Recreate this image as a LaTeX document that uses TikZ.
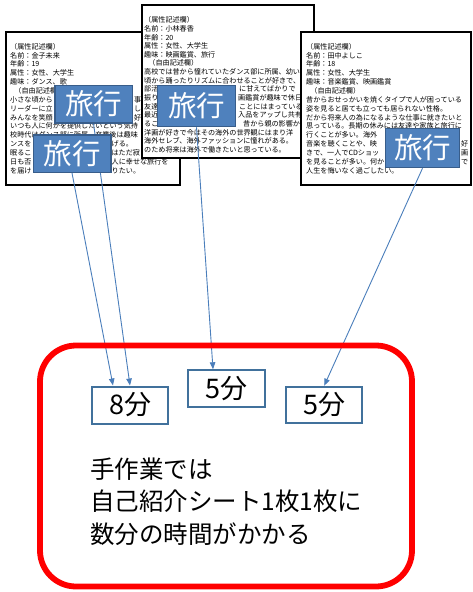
\documentclass[tikz,border=0pt]{standalone}
\usepackage{fontspec}
\setmainfont{Noto Sans CJK JP}
\usetikzlibrary{arrows.meta}
\definecolor{tagblue}{HTML}{4F81BD}
\definecolor{tagedge}{HTML}{385D8A}
\definecolor{linkblue}{HTML}{4A7EBB}
\definecolor{timeedge}{HTML}{41719C}
\definecolor{framered}{HTML}{FF0000}
\pgfdeclarelayer{bglayer}
\pgfdeclarelayer{cardlayer}
\pgfdeclarelayer{linklayer}
\pgfsetlayers{bglayer,cardlayer,linklayer,main}
\begin{document}
\begin{tikzpicture}[x=1pt,y=-1pt,
  card/.style={draw=black, line width=1.2pt, fill=white, inner sep=0pt, outer sep=0pt},
  cardtxt/.style={font=\fontsize{7.1}{8}\selectfont, inner sep=0pt, anchor=base west, text=black},
  tag/.style={fill=tagblue, draw=tagedge, line width=1.5pt, text=white, font=\fontsize{28.5}{30}\selectfont, minimum width=77.5pt, minimum height=37.5pt, inner sep=0pt},
  timebox/.style={fill=white, draw=timeedge, line width=2pt, font=\fontsize{27}{28}\selectfont, minimum width=76pt, minimum height=37pt, inner sep=0pt},
  link/.style={draw=linkblue, line width=0.9pt, -{Triangle[length=7pt,width=5.5pt]}},
  bigtxt/.style={font=\fontsize{24.5}{28}\selectfont, inner sep=0pt, anchor=base west, text=black},
  redframe/.style={draw=framered, line width=5.8pt, rounded corners=36pt, inner sep=0pt}
]
\useasboundingbox (0,0) rectangle (473,592);
\begin{pgfonlayer}{bglayer}
\fill[white] (0,0) rectangle (473,592);
\end{pgfonlayer}

\begin{pgfonlayer}{cardlayer}
% card 1
\node[card, minimum width=174pt, minimum height=153pt] (card1) at (93,108.5) {};
\foreach \t [count=\i from 0] in {
 {（属性記述欄）},{名前：金子未来},{年齢：19},{属性：女性、大学生},{趣味：ダンス、歌},
 {\hspace{0.6em}（自由記述欄）},{小さな頃から},{リーダーに立},{みんなを笑顔},
 {いつも人に何かを提供したいという気持},{校時代はダンス部に所属、卒業後は趣味},
 {ンスを},{眠るこ},{日も否},{を届け}}
 {\node[cardtxt] (ca\i) at (10,{49.2+\i*8.85}) {\t};}
\node[cardtxt] (car6) at (134,{49.2+6*8.85}) {事};
\node[cardtxt] (car7) at (134,{49.2+7*8.85}) {し};
\node[cardtxt] (car8) at (134,{49.2+8*8.85}) {好};
\node[cardtxt] (car11) at (111.5,{49.2+11*8.85}) {げる。};
\node[cardtxt] (car12) at (111.5,{49.2+12*8.85}) {はただ寂};
\node[cardtxt] (car13) at (111.5,{49.2+13*8.85}) {人に幸せな旅行を};
\node[cardtxt] (car14) at (111.5,{49.2+14*8.85}) {りたい。};

% card 2
\node[card, minimum width=172pt, minimum height=153pt] (card2) at (228,81.5) {};
\foreach \t [count=\i from 0] in {
 {（属性記述欄）},{名前：小林春香},{年齢：20},{属性：女性、大学生},{趣味：映画鑑賞、旅行},
 {\hspace{0.6em}（自由記述欄）},{高校では昔から憧れていたダンス部に所属、幼い},
 {頃から踊ったりリズムに合わせることが好きで、},{部活},{振り},{友達},{最近},{ること},
 {洋画が好きで今はその海外の世界観にはまり洋},{海外セレブ、海外ファッションに憧れがある。},
 {のため将来は海外で働きたいと思っている。}}
 {\node[cardtxt] (cb\i) at (144,{22.7+\i*8.65}) {\t};}
\node[cardtxt] (cbr8) at (239,{22.7+8*8.65}) {に甘えてばかりで};
\node[cardtxt] (cbr9) at (238,{22.7+9*8.65}) {画鑑賞が趣味で休日};
\node[cardtxt] (cbr10) at (239,{22.7+10*8.65}) {ことにはまっている。};
\node[cardtxt] (cbr11) at (238,{22.7+11*8.65}) {入品をアップし共有};
\node[cardtxt] (cbr12) at (243,{22.7+12*8.65}) {昔から親の影響か、};

% card 3
\node[card, minimum width=170pt, minimum height=153pt] (card3) at (386,108.5) {};
\foreach \t [count=\i from 0] in {
 {（属性記述欄）},{名前：田中よしこ},{年齢：18},{属性：女性、大学生},{趣味：音楽鑑賞、映画鑑賞},
 {\hspace{0.6em}（自由記述欄）},{昔からおせっかいを焼くタイプで人が困っている},
 {姿を見ると居ても立っても居られない性格。},{だから将来人の為になるような仕事に就きたいと},
 {思っている。長期の休みには友達や家族と旅行に},{行くことが多い。海外},
 {音楽を聴くことや、映},{きで、一人でCDショッ},{を見ることが多い。何か},
 {人生を悔いなく過ごしたい。}}
 {\node[cardtxt] (cc\i) at (306,{49.2+\i*8.85}) {\t};}
\node[cardtxt] (ccr11) at (461,{49.2+11*8.85}) {好};
\node[cardtxt] (ccr12) at (461,{49.2+12*8.85}) {画};
\node[cardtxt] (ccr13) at (461,{49.2+13*8.85}) {で};
\end{pgfonlayer}

% tags
\node[tag] (tagA) at (93.5,104) {旅行};
\node[tag] (tagB) at (72,153.5) {旅行};
\node[tag, minimum width=78pt, minimum height=41pt] (tagC) at (196.5,106) {旅行};
\node[tag, minimum width=74pt, minimum height=39pt] (tagD) at (422.5,148) {旅行};

% time boxes
\node[timebox] (t8) at (130.2,405) {8分};
\node[timebox, minimum width=77pt] (t5a) at (226.2,388.8) {5分};
\node[timebox, minimum height=36pt] (t5b) at (324.2,404.7) {5分};

% links
\begin{pgfonlayer}{linklayer}
\draw[link] (tagA.south) -- ([xshift=-0.2pt]t8.north);
\draw[link] (tagB.south) -- ([xshift=-17.2pt]t8.north);
\draw[link] (tagC.south) -- ([xshift=-13.2pt]t5a.north);
\draw[link] (tagD.south) -- (t5b.north);
\end{pgfonlayer}

% red frame
\node[redframe, minimum width=372pt, minimum height=241pt] (frame) at (226,466) {};

% text
\node[bigtxt] (l1) at (90,478.5) {手作業では};
\node[bigtxt] (l2) at (90,510) {自己紹介シート1枚1枚に};
\node[bigtxt] (l3) at (90,543.3) {数分の時間がかかる};
\end{tikzpicture}
\end{document}
